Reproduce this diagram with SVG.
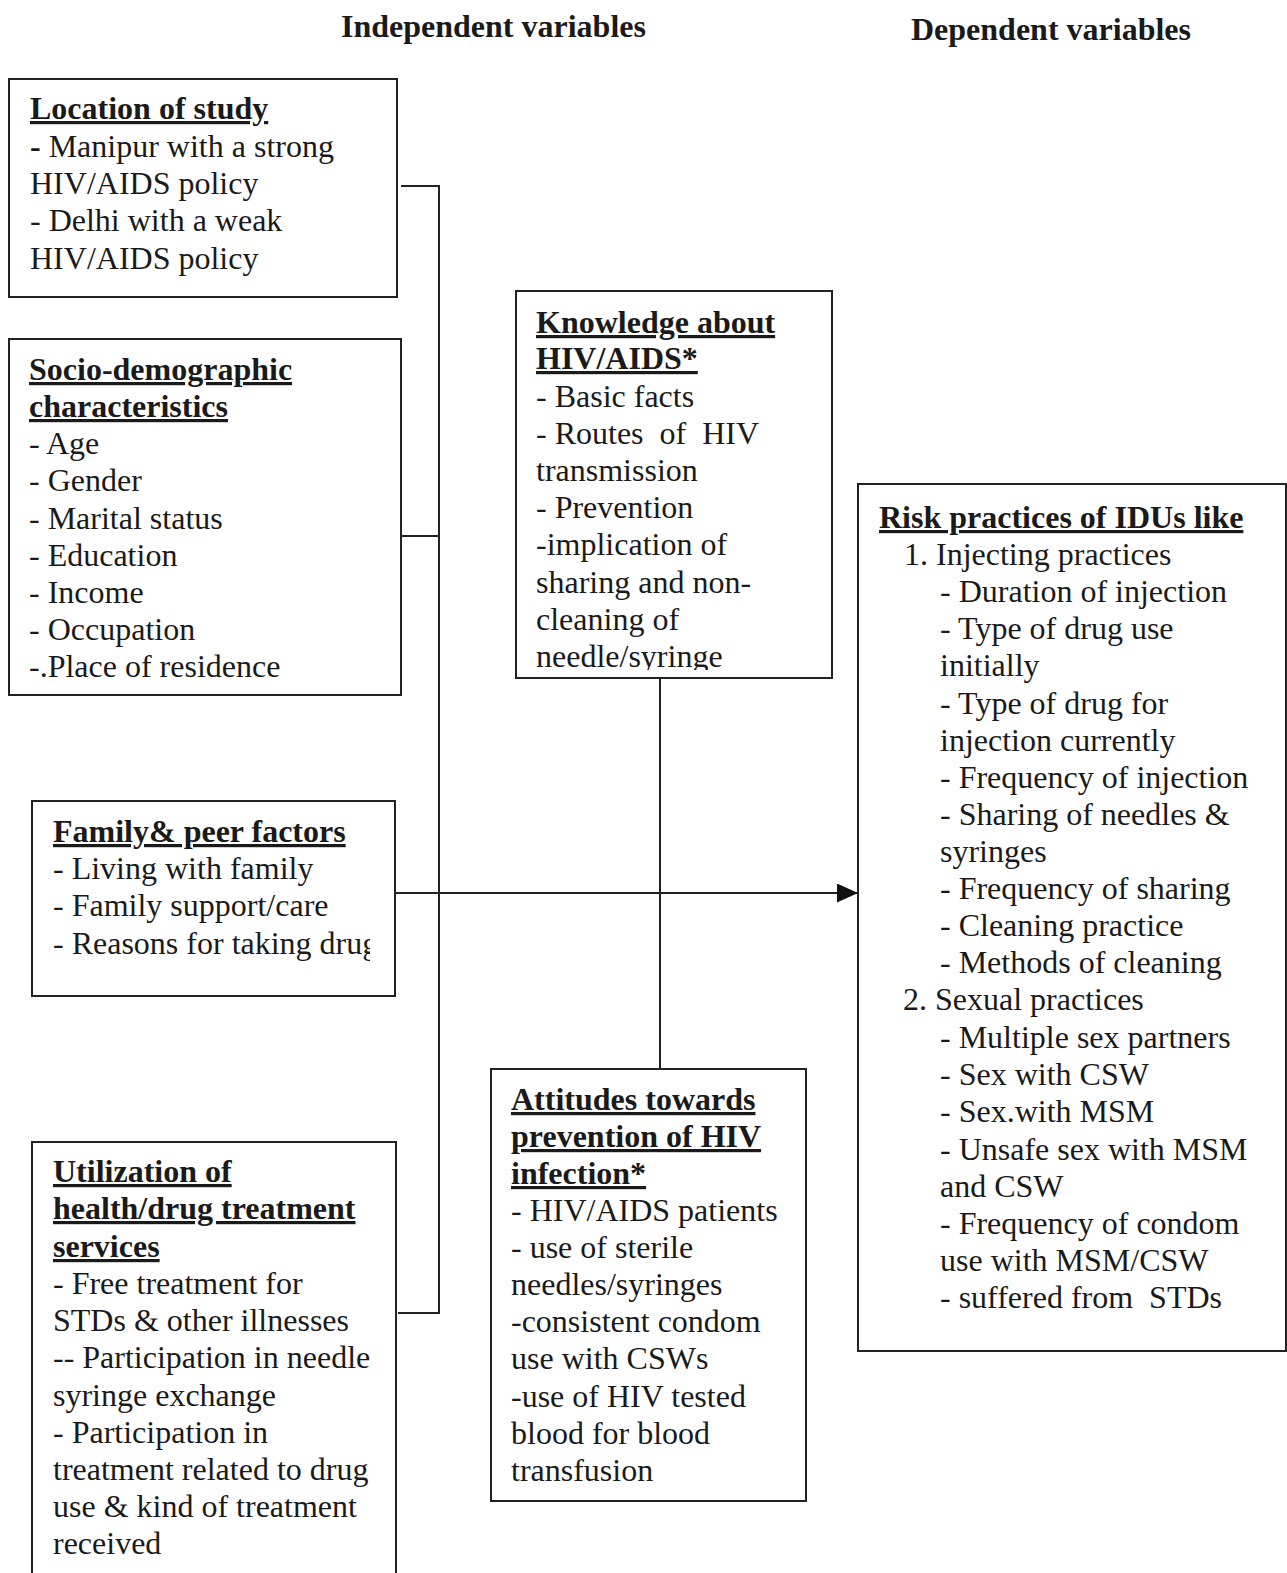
<svg xmlns="http://www.w3.org/2000/svg" width="1287" height="1573" viewBox="0 0 1287 1573">
<style>
text{font-family:"Liberation Serif","Times New Roman",serif;font-size:32px;fill:#1a1a1a}
.h{font-weight:bold}
.t{font-weight:bold;text-decoration:underline}
.box{fill:none;stroke:#222;stroke-width:2}
.ln{fill:none;stroke:#222;stroke-width:2}
</style>
<defs>
<marker id="arr" markerWidth="21" markerHeight="19" refX="21" refY="9.5" orient="auto" markerUnits="userSpaceOnUse">
<path d="M0,0 L21,9.5 L0,19 Z" fill="#111"/>
</marker>
<clipPath id="cf"><rect x="0" y="790" width="370" height="220"/></clipPath>
<clipPath id="ck"><rect x="500" y="280" width="340" height="390"/></clipPath>
</defs>
<rect width="1287" height="1573" fill="#fff"/>
<g id="headers">
<text class="h" x="341" y="37">Independent variables</text>
<text class="h" x="911" y="40">Dependent variables</text>
</g>
<g id="connectors">
<polyline class="ln" points="401,186 439,186 439,1313 398,1313"/>
<line class="ln" x1="402" y1="536" x2="439" y2="536"/>
<line class="ln" x1="660" y1="679" x2="660" y2="1069"/>
<line class="ln" x1="395" y1="893" x2="858" y2="893" marker-end="url(#arr)"/>
</g>
<g id="location">
<rect class="box" x="9" y="79" width="388" height="218"/>
<text class="t" x="30" y="119">Location of study</text>
<text x="30" y="157"><tspan font-weight="bold">-</tspan> Manipur with a strong</text>
<text x="30" y="194">HIV/AIDS policy</text>
<text x="30" y="231">- Delhi with a weak</text>
<text x="30" y="269">HIV/AIDS policy</text>
</g>
<g id="socio">
<rect class="box" x="9" y="339" width="392" height="356"/>
<text class="t" x="29" y="380">Socio-demographic</text>
<text class="t" x="29" y="417">characteristics</text>
<text x="29" y="454">- Age</text>
<text x="29" y="491">- Gender</text>
<text x="29" y="529">- Marital status</text>
<text x="29" y="566">- Education</text>
<text x="29" y="603">- Income</text>
<text x="29" y="640">- Occupation</text>
<text x="29" y="677">-.Place of residence</text>
</g>
<g id="family">
<rect class="box" x="32" y="801" width="363" height="195"/>
<text class="t" x="53" y="842">Family&amp; peer factors</text>
<text x="53" y="879">- Living with family</text>
<text x="53" y="916">- Family support/care</text>
<text x="53" y="954" clip-path="url(#cf)">- Reasons for taking drug</text>
</g>
<g id="utilization">
<rect class="box" x="32" y="1142" width="364" height="460"/>
<text class="t" x="53" y="1182">Utilization of</text>
<text class="t" x="53" y="1219">health/drug treatment</text>
<text class="t" x="53" y="1257">services</text>
<text x="53" y="1294">- Free treatment for</text>
<text x="53" y="1331">STDs &amp; other illnesses</text>
<text x="53" y="1368">-- Participation in needle</text>
<text x="53" y="1406">syringe exchange</text>
<text x="53" y="1443">- Participation in</text>
<text x="53" y="1480">treatment related to drug</text>
<text x="53" y="1517">use &amp; kind of treatment</text>
<text x="53" y="1554">received</text>
</g>
<g id="knowledge">
<rect class="box" x="516" y="291" width="316" height="387"/>
<text class="t" x="536" y="333">Knowledge about</text>
<text class="t" x="536" y="369">HIV/AIDS*</text>
<text x="536" y="407">- Basic facts</text>
<text x="536" y="444" xml:space="preserve">- Routes  of  HIV</text>
<text x="536" y="481">transmission</text>
<text x="536" y="518">- Prevention</text>
<text x="536" y="555">-implication of</text>
<text x="536" y="593">sharing and non-</text>
<text x="536" y="630">cleaning of</text>
<text x="536" y="667" clip-path="url(#ck)">needle/syringe</text>
</g>
<g id="attitudes">
<rect class="box" x="491" y="1069" width="315" height="432"/>
<text class="t" x="511" y="1110">Attitudes towards</text>
<text class="t" x="511" y="1147">prevention of HIV</text>
<text class="t" x="511" y="1184">infection*</text>
<text x="511" y="1221">- HIV/AIDS patients</text>
<text x="511" y="1258">- use of sterile</text>
<text x="511" y="1295">needles/syringes</text>
<text x="511" y="1332">-consistent condom</text>
<text x="511" y="1369">use with CSWs</text>
<text x="511" y="1407">-use of HIV tested</text>
<text x="511" y="1444">blood for blood</text>
<text x="511" y="1481">transfusion</text>
</g>
<g id="risk">
<rect class="box" x="858" y="484" width="428" height="867"/>
<text class="t" x="879" y="528">Risk practices of IDUs like</text>
<text x="904" y="565">1. Injecting practices</text>
<text x="940" y="602">- Duration of injection</text>
<text x="940" y="639">- Type of drug use</text>
<text x="940" y="676">initially</text>
<text x="940" y="714">- Type of drug for</text>
<text x="940" y="751">injection currently</text>
<text x="940" y="788">- Frequency of injection</text>
<text x="940" y="825">- Sharing of needles &amp;</text>
<text x="940" y="862">syringes</text>
<text x="940" y="899">- Frequency of sharing</text>
<text x="940" y="936">- Cleaning practice</text>
<text x="940" y="973">- Methods of cleaning</text>
<text x="903" y="1010">2. Sexual practices</text>
<text x="940" y="1048">- Multiple sex partners</text>
<text x="940" y="1085">- Sex with CSW</text>
<text x="940" y="1122">- Sex.with MSM</text>
<text x="940" y="1160">- Unsafe sex with MSM</text>
<text x="940" y="1197">and CSW</text>
<text x="940" y="1234">- Frequency of condom</text>
<text x="940" y="1271">use with MSM/CSW</text>
<text x="940" y="1308" xml:space="preserve">- suffered from  STDs</text>
</g>
</svg>
